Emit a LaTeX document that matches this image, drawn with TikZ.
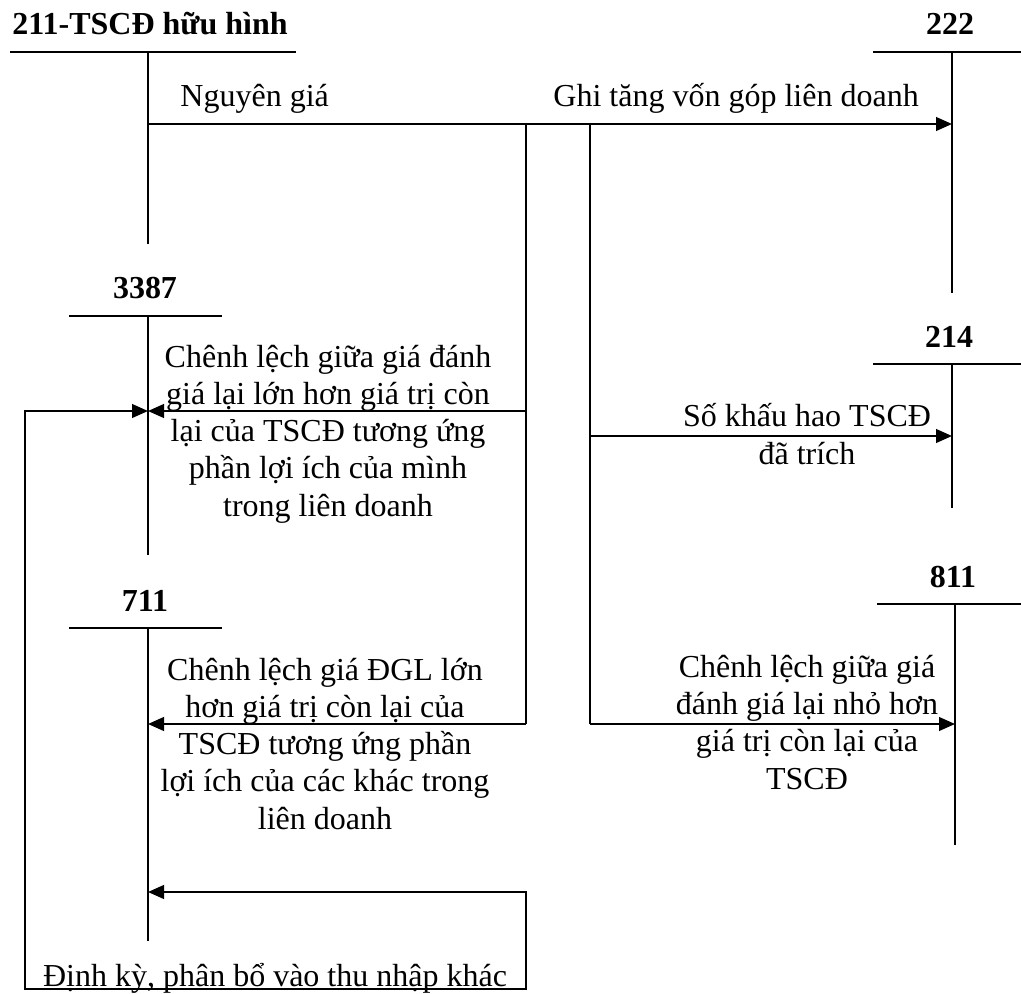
\documentclass[tikz,border=0pt]{standalone}
\usepackage{fontspec}
\setmainfont{Liberation Serif}
\usetikzlibrary{arrows.meta,positioning}

\begin{document}
\begin{tikzpicture}[x=0.4375pt, y=-0.4375pt,
  font=\fontsize{14}{16.2}\selectfont,
  acctitle/.style={font=\fontsize{14}{16.2}\selectfont\bfseries, anchor=base, inner sep=0pt},
  tline/.style={line width=0.9pt},
  flow/.style={line width=0.9pt, -{Triangle[length=7pt,width=6pt]}},
  twoway/.style={line width=0.9pt, {Triangle[length=7pt,width=6pt]}-{Triangle[length=7pt,width=6pt]}},
  lbl/.style={align=center, anchor=base, inner sep=0pt}]
\useasboundingbox (0,0) rectangle (1021,994);

% account titles
\node[acctitle, anchor=base west] (t211) at (12,34) {211-TSCĐ hữu hình};
\node[acctitle] (t222) at (950,34) {222};
\node[acctitle] (t3387) at (145,298) {3387};
\node[acctitle] (t214) at (949,347) {214};
\node[acctitle] (t711) at (145,611) {711};
\node[acctitle] (t811) at (953,587) {811};

% T-accounts
\coordinate (v211) at (148,52);
\coordinate (v222) at (952,52);
\coordinate (v3387) at (148,316);
\coordinate (v214) at (952,364);
\coordinate (v711) at (148,628);
\coordinate (v811) at (955,604);
\draw[tline] (10,52) -- (296,52) (v211) -- (148,244);
\draw[tline] (873,52) -- (1021,52) (v222) -- (952,293);
\draw[tline] (69,316) -- (222,316) (v3387) -- (148,555);
\draw[tline] (873,364) -- (1021,364) (v214) -- (952,508);
\draw[tline] (69,628) -- (222,628) (v711) -- (148,941);
\draw[tline] (877,604) -- (1021,604) (v811) -- (955,845);

% connectors
\coordinate (s211) at (148,124);
\coordinate (ja) at (526,124);
\coordinate (jb) at (590,124);
\coordinate (a3387) at (526,411);
\coordinate (a711) at (526,724);
\coordinate (b214) at (590,436);
\coordinate (b811) at (590,724);
\coordinate (l711) at (526,892);
\draw[flow] (s211) -- (s211 -| v222);
\draw[tline] (ja) -- (a711);
\draw[tline] (jb) -- (b811);
\draw[flow] (a3387) -- (a3387 -| v3387);
\draw[flow] (a711) -- (a711 -| v711);
\draw[flow] (b214) -- (b214 -| v214);
\draw[flow] (b811) -- (b811 -| v811);
\draw[twoway] (a3387 -| v3387) -- (25,411) -- (25,989) -- (526,989) -- (l711) -- (l711 -| v711);

% labels (multi-line: base = last line)
\node[lbl, anchor=base west] (nguyen) at (180,106) {Nguyên giá};
\node[lbl, anchor=base west] (ghitang) at (553,106) {Ghi tăng vốn góp liên doanh};
\node[lbl] (cl3387) at (328,516) {Chênh lệch giữa giá đánh\\giá lại lớn hơn giá trị còn\\lại của TSCĐ tương ứng\\phần lợi ích của mình\\trong liên doanh};
\node[lbl] (kh214) at (807,464) {Số khấu hao TSCĐ\\đã trích};
\node[lbl] (cl711) at (325,829) {Chênh lệch giá ĐGL lớn\\hơn giá trị còn lại của\\TSCĐ tương ứng phần\\lợi ích của các khác trong\\liên doanh};
\node[lbl] (cl811) at (807,789) {Chênh lệch giữa giá\\đánh giá lại nhỏ hơn\\giá trị còn lại của\\TSCĐ};
\node[lbl] (dinhky) at (275,986) {Định kỳ, phân bổ vào thu nhập khác};
\end{tikzpicture}
\end{document}
